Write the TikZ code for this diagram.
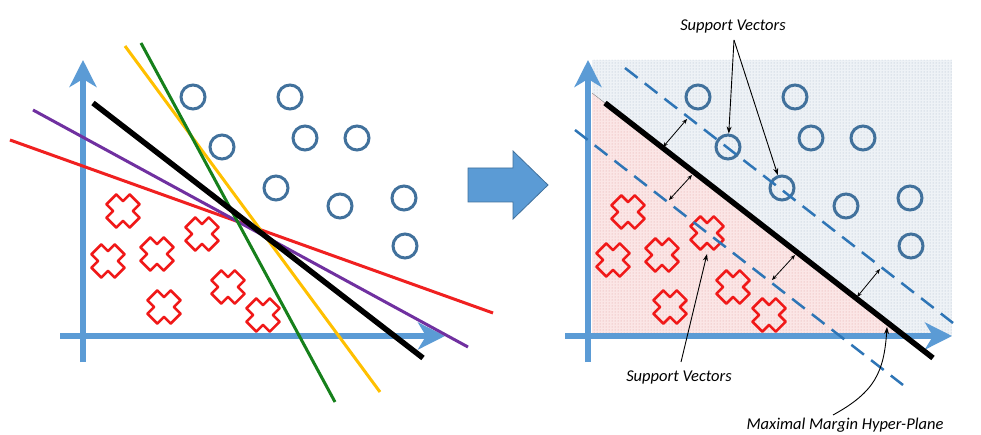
\documentclass[tikz,border=0pt]{standalone}
\usepackage{fontspec}
\setmainfont{Carlito}
\usetikzlibrary{arrows.meta,patterns}
\definecolor{axisblue}{HTML}{5B9BD5}
\definecolor{ringblue}{HTML}{41719C}
\definecolor{dashblue}{HTML}{2E75B6}
\definecolor{xred}{HTML}{F01818}
\definecolor{lred}{HTML}{F02020}
\definecolor{lpurple}{HTML}{7030A0}
\definecolor{lyellow}{HTML}{FFC000}
\definecolor{lgreen}{HTML}{16801B}
\definecolor{bluebg}{HTML}{EEF2F6}
\definecolor{bluedot}{HTML}{A9B9C9}
\definecolor{pinkbg}{HTML}{FBE6E6}
\definecolor{pinkdot}{HTML}{E0A0A0}
\tikzset{
  axis/.style={axisblue,line width=6pt,-{Stealth[length=27pt,width=27pt,inset=8pt]}},
  ring/.style={circle,draw=ringblue,line width=3pt,minimum size=24pt,inner sep=0pt},
  sepline/.style={line width=3pt},
  hyper/.style={black,line width=5.5pt},
  margin/.style={dashblue,line width=2.5pt,dash pattern=on 16pt off 9pt},
  dbl/.style={black,line width=0.8pt,{Stealth[length=5pt,width=4pt]}-{Stealth[length=5pt,width=4pt]}},
  note/.style={black,line width=0.9pt,-{Stealth[length=7pt,width=5pt]}},
  lbl/.style={font=\fontsize{16.5}{19}\selectfont\itshape,inner sep=0pt},
  xcross/.pic={\draw[xred,line width=2.6pt,line join=round,rotate=45]
     (7,7)--(16.5,7)--(16.5,-7)--(7,-7)--(7,-16.5)--(-7,-16.5)--(-7,-7)--(-16.5,-7)--(-16.5,7)--(-7,7)--(-7,16.5)--(7,16.5)--cycle;}
}
\begin{document}
\begin{tikzpicture}[x=1pt,y=-1pt]
\useasboundingbox[fill=white] (0,0) rectangle (981,435);
% ---------- left panel ----------
\draw[axis] (83,362) -- (83,60);
\draw[axis] (60,336) -- (445,336);
\foreach \n/\x/\y in {a1/193/97,a2/290/97,a3/222/147,a4/305/138,a5/357/138,a6/276/188,a7/340/206,a8/404/198,a9/405/246}
  \node[ring] (\n) at (\x,\y) {};
\foreach \x/\y in {123/211,202/234,108/261,157/254,164/307,228/287,263/315}
  \pic at (\x,\y) {xcross};
\draw[sepline,lred] (10,140) -- (493,313);
\draw[sepline,lpurple] (33,110) -- (468,347);
\draw[sepline,lyellow] (125,46) -- (380,392);
\draw[sepline,lgreen] (141,43) -- (335,402);
\draw[hyper] (93,103) -- (423,358);
% ---------- block arrow ----------
\draw[fill=axisblue,draw=ringblue,line width=0.8pt]
  (468,168) -- (513,168) -- (513,151) -- (548,185) -- (513,219) -- (513,202) -- (468,202) -- cycle;
% ---------- right panel ----------
\fill[bluebg] (592,60) rectangle (952,336);
\fill[pinkbg] (592,93) -- (905,336) -- (592,336) -- cycle;
\fill[pattern=dots,pattern color=bluedot] (592,60) -- (952,60) -- (952,336) -- (905,336) -- (592,93) -- cycle;
\fill[pattern=dots,pattern color=pinkdot] (592,93) -- (905,336) -- (592,336) -- cycle;
\draw[gray,line width=0.4pt] (592,93) -- (605,103);
\draw[axis] (588,362) -- (588,60);
\draw[axis] (565,336) -- (952,336);
\foreach \n/\x/\y in {b1/698/97,b2/795/97,b3/728/147,b4/811/138,b5/863/138,b6/782/188,b7/846/206,b8/910/198,b9/911/246}
  \node[ring] (\n) at (\x,\y) {};
\foreach \x/\y in {628/212,707/233,613/260,662/255,670/307,733/287,769/315}
  \pic at (\x,\y) {xcross};
\draw[margin] (625,68) -- (953,323);
\draw[margin] (575,130) -- (903,385);
\draw[hyper] (605,103) -- (933,358);
% margin arrows
\coordinate (h1) at (663,147); \coordinate (u1) at (687,119);
\coordinate (h2) at (692,175); \coordinate (l2) at (669,200);
\coordinate (h3) at (795,255); \coordinate (l3) at (772,280);
\coordinate (h4) at (857,297); \coordinate (u4) at (880,269);
\draw[dbl] (h1) -- (u1);
\draw[dbl] (h2) -- (l2);
\draw[dbl] (h3) -- (l3);
\draw[dbl] (h4) -- (u4);
% labels
\node[lbl] (svt) at (733,26) {Support Vectors};
\node[lbl] (svb) at (679,377) {Support Vectors};
\node[lbl] (mm) at (845,425) {Maximal Margin Hyper-Plane};
\coordinate (apex) at (734,40);
\draw[note] (apex) -- (b3);
\draw[note] (apex) -- (b6);
\coordinate (svbtop) at (681,362);
\coordinate (svx) at (707,254);
\draw[note] (svbtop) -- (svx);
\coordinate (mmstart) at (833,415);
\coordinate (mmtip) at (887,327);
\draw[note] (mmstart) .. controls (875,392) and (884,372) .. (mmtip);
\end{tikzpicture}
\end{document}
